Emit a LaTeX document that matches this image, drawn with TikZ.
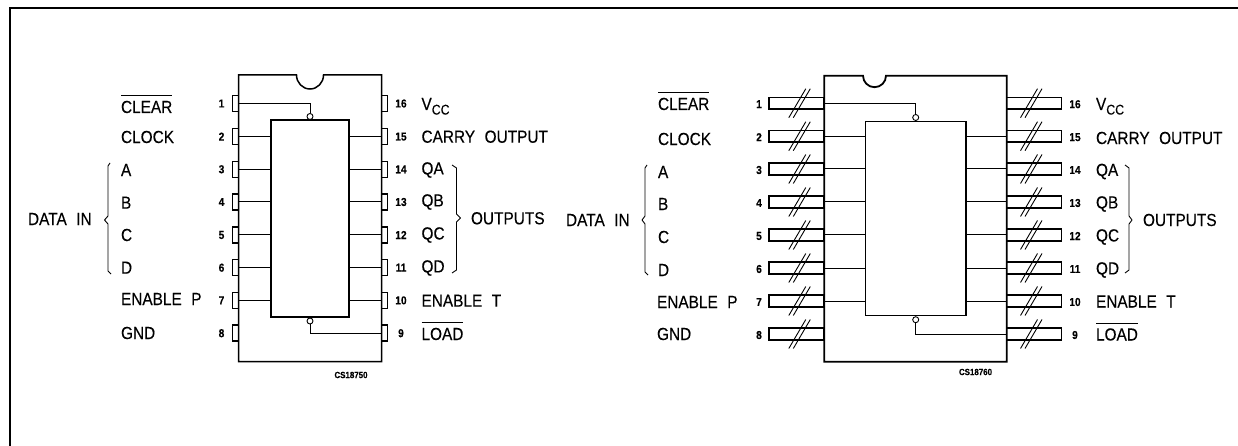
\documentclass[tikz,border=0pt]{standalone}
\usepackage{fontspec}
\setmainfont[FakeStretch=0.88,FakeBold=0.25]{Liberation Sans}
\newsavebox{\ovlbox}
\newcommand{\ovl}[1]{\sbox{\ovlbox}{#1}\rlap{\rule[17pt]{\wd\ovlbox}{0.9pt}}\usebox{\ovlbox}}
\newcommand{\gp}{\hspace{9.5pt}}
\usetikzlibrary{calc}
\tikzset{
  x=1pt,y=-1pt,
  every node/.style={inner sep=0pt,outer sep=0pt},
  body/.style={line width=1.5pt,line join=miter},
  wire/.style={line width=1pt},
  bub/.style={circle,draw,line width=0.9pt,fill=white,minimum size=6pt},
  lbl/.style={anchor=west,font=\fontsize{17.5}{19}\selectfont},
  lblo/.style={anchor=base west,font=\fontsize{17.5}{19}\selectfont},
  num/.style={anchor=center,font=\fontsize{11.5}{13}\selectfont\bfseries},
  tag/.style={anchor=center,font=\fontsize{9}{11}\selectfont\bfseries},
  spin/.style={draw,line width=1.5pt,minimum width=6pt,minimum height=16pt},
  wpin/.style={draw,line width=1.8pt,minimum width=55pt,minimum height=11.5pt},
  brc/.style={line width=0.9pt,line join=round},
  slash/.style={line width=0.9pt},
}
\begin{document}
\begin{tikzpicture}
\useasboundingbox (0,0) rectangle (1238,446);
\coordinate (fa) at (10,446);
\coordinate (fb) at (1238,8);
\draw[line width=2pt] (fa) |- (fb);
% ===== left package
\draw[body] (238.5,75) -- (296.5,75) arc[start angle=180,end angle=360,x radius=13.5,y radius=-14] -- (381.5,75) -- (381.5,361.5) -- (238.5,361.5) -- cycle;
\node[draw,line width=1.5pt,minimum width=78pt,minimum height=196.5pt] (li) at (310,218.5) {};
\foreach \n/\y in {1/103.5,2/136.6,3/169.3,4/202,5/235,6/267.7,7/300.4,8/333.2}{
  \node[spin] (lp\n) at (235.5,\y) {};
  \node[num] (ln\n) at (221.5,\y) {\n};
}
\foreach \n/\y in {16/103.5,15/136.6,14/169.3,13/202,12/235,11/267.7,10/300.4,9/333.2}{
  \node[spin] (lp\n) at (384.5,\y) {};
  \node[num] (ln\n) at (401,\y) {\n};
}
\foreach \n in {2,...,7}{\draw[wire] (lp\n.east) -- (lp\n.east -| li.west);}
\foreach \n in {15,14,13,12,11,10}{\draw[wire] (lp\n.west) -- (lp\n.west -| li.east);}
\node[bub] (lb1) at (310,116.5) {};
\node[bub] (lb2) at (310,321) {};
\draw[wire] (lp1.east) -| (lb1.north);
\draw[wire] (lp9.west) -| (lb2.south);
\node[lblo] (lt1) at (121,113) {\ovl{CLEAR}};
\node[lbl] (lt2) at (121,137) {CLOCK};
\node[lbl] (lt3) at (121,170) {A};
\node[lbl] (lt4) at (121,202.7) {B};
\node[lbl] (lt5) at (121,235) {C};
\node[lbl] (lt6) at (121,267.7) {D};
\node[lbl] (lt7) at (121,299) {ENABLE\gp P};
\node[lbl] (lt8) at (121,333) {GND};
\node[lblo] (lt16) at (421.5,110) {V\raisebox{-4.5pt}{\fontsize{14}{15}\selectfont CC}};
\node[lbl] (lt15) at (421.5,136.7) {CARRY\gp OUTPUT};
\node[lbl] (lt14) at (421.5,170) {QA};
\node[lbl] (lt13) at (421.5,202) {QB};
\node[lbl] (lt12) at (421.5,235) {QC};
\node[lbl] (lt11) at (421.5,268) {QD};
\node[lbl] (lt10) at (421.5,300.7) {ENABLE\gp T};
\node[lblo] (lt9) at (421.5,340) {\ovl{LOAD}};
\node[lbl] (ldata) at (28,219) {DATA\gp IN};
\node[lbl] (lout) at (471,218.3) {OUTPUTS};
\node[tag] (lcs) at (351,375) {CS18750};
\draw[brc] (110,163) -- (108,166) -- (108,216) -- (104.5,220) -- (108,224) -- (108,271) -- (111,274);
\draw[brc] (452,165) -- (456.5,168) -- (456.5,214) -- (460.5,218) -- (456.5,222) -- (456.5,270) -- (452,273);
% ===== right package
\draw[body,line width=1.8pt] (824.3,75.7) -- (863,75.7) arc[start angle=180,end angle=360,x radius=11.5,y radius=-11.5] -- (1006.7,75.7) -- (1006.7,361.7) -- (824.3,361.7) -- cycle;
\node[draw,line width=1.5pt,minimum width=100.7pt,minimum height=194pt] (ri) at (915.7,218.7) {};
\foreach \n/\y in {1/103.2,2/136.2,3/169,4/202,5/235,6/268,7/301,8/334}{
  \node[wpin] (rp\n) at (796.8,\y) {};
  \node[num] (rn\n) at (759,\y+1) {\n};
  \draw[slash] ($(rp\n.center)+(-8,14.5)$) -- ($(rp\n.center)+(9,-14.5)$);
  \draw[slash] ($(rp\n.center)+(-3.5,14.5)$) -- ($(rp\n.center)+(13.5,-14.5)$);
}
\foreach \n/\y in {16/103.2,15/136.2,14/169,13/202,12/235,11/268,10/301,9/334}{
  \node[wpin] (rp\n) at (1034,\y) {};
  \node[num] (rn\n) at (1075,\y+1) {\n};
  \draw[slash] ($(rp\n.center)+(-13.5,14.5)$) -- ($(rp\n.center)+(3.5,-14.5)$);
  \draw[slash] ($(rp\n.center)+(-9,14.5)$) -- ($(rp\n.center)+(8,-14.5)$);
}
\foreach \n in {2,...,7}{\draw[wire] (rp\n.east) -- (rp\n.east -| ri.west);}
\foreach \n in {15,14,13,12,11,10}{\draw[wire] (rp\n.west) -- (rp\n.west -| ri.east);}
\node[bub] (rb1) at (915.7,117.5) {};
\node[bub] (rb2) at (915.7,319.7) {};
\draw[wire] (rp1.east) -| (rb1.north);
\draw[wire] (rp9.west) -| (rb2.south);
\node[lblo] (rt1) at (658,110) {\ovl{CLEAR}};
\node[lbl] (rt2) at (658,139) {CLOCK};
\node[lbl] (rt3) at (658,172) {A};
\node[lbl] (rt4) at (658,204) {B};
\node[lbl] (rt5) at (658,237) {C};
\node[lbl] (rt6) at (658,270) {D};
\node[lbl] (rt7) at (657,302) {ENABLE\gp P};
\node[lbl] (rt8) at (657,334) {GND};
\node[lblo] (rt16) at (1096,110) {V\raisebox{-4.5pt}{\fontsize{14}{15}\selectfont CC}};
\node[lbl] (rt15) at (1096,138) {CARRY\gp OUTPUT};
\node[lbl] (rt14) at (1096,171.5) {QA};
\node[lbl] (rt13) at (1096,204) {QB};
\node[lbl] (rt12) at (1096,237) {QC};
\node[lbl] (rt11) at (1096,270) {QD};
\node[lbl] (rt10) at (1096,301.5) {ENABLE\gp T};
\node[lblo] (rt9) at (1096,340.5) {\ovl{LOAD}};
\node[lbl] (rdata) at (566,220) {DATA\gp IN};
\node[lbl] (rout) at (1143,220) {OUTPUTS};
\node[tag] (rcs) at (975.5,372) {CS18760};
\draw[brc] (647,165) -- (645,168) -- (645,216) -- (642,220) -- (645,224) -- (645,272) -- (648,275);
\draw[brc] (1125,165) -- (1129,168) -- (1129,216) -- (1132,220) -- (1129,224) -- (1129,270) -- (1125,273);
\end{tikzpicture}
\end{document}
